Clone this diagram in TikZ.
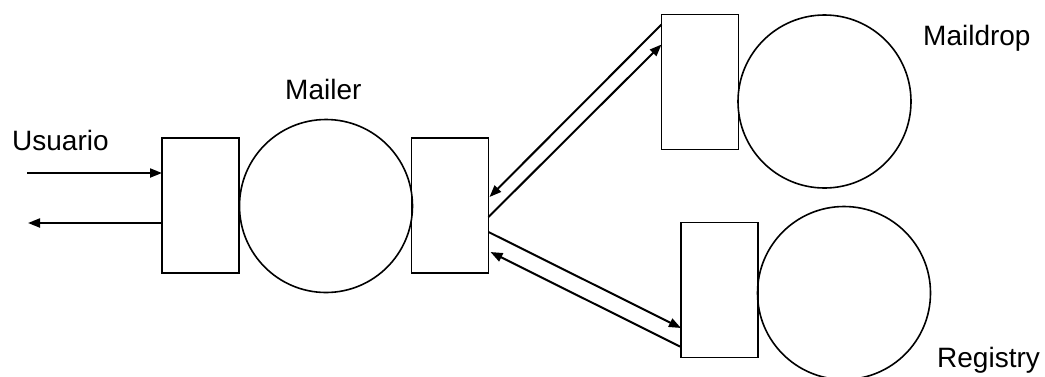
\documentclass[tikz,border=0pt]{standalone}
\usepackage{fontspec}
\setmainfont{Liberation Sans}
\usetikzlibrary{arrows.meta}
\begin{document}
\begin{tikzpicture}[x=1pt,y=-1pt,
  port/.style={draw=black,line width=1.6pt,rectangle,minimum width=77pt,minimum height=135pt,inner sep=0pt,outer sep=0pt},
  proc/.style={draw=black,line width=1.6pt,circle,minimum size=173pt,inner sep=0pt,outer sep=0pt},
  lbl/.style={anchor=base west,inner sep=0pt,font=\fontsize{28}{30}\selectfont},
  flow/.style={line width=2pt,-{Triangle[length=12pt,width=9pt]}}]
\useasboundingbox (0,0) rectangle (1045,376);
% nodes
\node[port] (L) at (200.5,205.5) {};
\node[proc] (Mc) at (326,206) {};
\node[port] (M) at (450,205.5) {};
\node[port] (MD) at (700,82) {};
\node[proc] (MDc) at (824.5,101.5) {};
\node[port] (R) at (719.5,290) {};
\node[proc] (Rc) at (844,293) {};
% labels
\node[lbl] (tU) at (12,150) {Usuario};
\node[lbl] (tM) at (285,99) {Mailer};
\node[lbl] (tMD) at (923,45) {Maildrop};
\node[lbl] (tR) at (937,367) {Registry};
% free ends
\coordinate (uin) at (27,173);
\coordinate (uout) at (28,223);
% connectors
\draw[flow] (uin) -- ([yshift=32.5pt]L.west);
\draw[flow] ([yshift=-17.5pt]L.west) -- (uout);
\draw[flow] ([yshift=-10pt]MD.north west) -- ([xshift=1pt,yshift=8.5pt]M.east);
\draw[flow] ([yshift=-11.5pt]M.east) -- ([yshift=-30pt]MD.north west);
\draw[flow] ([yshift=-26.5pt]M.east) -- ([yshift=-38pt]R.west);
\draw[flow] ([yshift=-57pt]R.west) -- ([xshift=2pt,yshift=-46.5pt]M.east);
\end{tikzpicture}
\end{document}
